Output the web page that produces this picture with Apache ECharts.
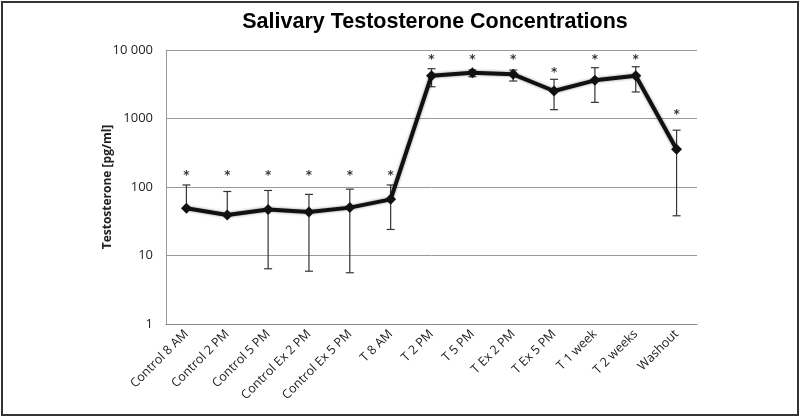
<!DOCTYPE html>
<html>
<head>
<meta charset="utf-8">
<script src="https://cdn.jsdelivr.net/npm/echarts@6/dist/echarts.min.js"></script>
<style>html,body{margin:0;padding:0;background:#fff}#c{width:800px;height:418px}</style>
</head>
<body>
<div id="c"></div>
<script>
const categories = ['Control 8 AM','Control 2 PM','Control 5 PM','Control Ex 2 PM','Control Ex 5 PM','T 8 AM','T 2 PM','T 5 PM','T Ex 2 PM','T Ex 5 PM','T 1 week','T 2 weeks','Washout'];
const means = [49, 39, 47, 43, 50, 66, 4215, 4665, 4420, 2520, 3610, 4215, 355];
const upperErr = [107, 86, 89, 78, 93, 107, 5330, 5100, 5100, 3735, 5520, 5700, 675];
const lowerErr = [null, null, 6.4, 5.9, 5.6, 24, 2910, 4075, 3525, 1345, 1720, 2440, 38];
const starLevels = [155, 155, 155, 155, 155, 155, 7640, 7640, 7640, 4935, 7640, 7640, 1216];
const yTicks = [1, 10, 100, 1000, 10000];

const font = '"Open Sans", Lato, sans-serif';
const chart = echarts.init(document.getElementById('c'));
const errData = categories.map((c, i) => [i, means[i], upperErr[i], lowerErr[i]]);

chart.setOption({
  animation: false,
  backgroundColor: '#fff',
  title: {
    text: 'Salivary Testosterone Concentrations',
    left: 430, top: 6, textAlign: 'center',
    textStyle: {fontFamily: '"Liberation Sans", Arial, sans-serif', fontWeight: 'bold', fontSize: 21.5, color: '#000'}
  },
  graphic: [{
    type: 'rect', shape: {x: 2, y: 2, width: 796, height: 413},
    style: {fill: 'none', stroke: '#333', lineWidth: 2}, silent: true
  }],
  grid: {left: 166, right: 103, top: 50, bottom: 94},
  xAxis: {
    type: 'category', data: categories, boundaryGap: true,
    axisLine: {lineStyle: {color: '#888', width: 1}},
    axisTick: {show: false},
    axisLabel: {rotate: 45, margin: 8, fontFamily: font, fontSize: 12.5, color: '#222', interval: 0}
  },
  yAxis: {
    type: 'log', logBase: 10, min: 1, max: 10000,
    name: 'Testosterone [pg/ml]', nameLocation: 'middle', nameGap: 52, nameMoveOverlap: false,
    nameTextStyle: {fontFamily: font, fontWeight: 'bold', fontSize: 12, color: '#222'},
    axisLine: {show: true, lineStyle: {color: '#999', width: 1}},
    axisTick: {show: false},
    splitLine: {lineStyle: {color: '#999', width: 1}},
    axisLabel: {fontFamily: font, fontSize: 13, color: '#222', margin: 13,
      formatter: v => (yTicks.includes(v) ? (v === 10000 ? '10 000' : String(v)) : '')}
  },
  series: [
    {
      type: 'custom', z: 3,
      data: errData,
      renderItem: (params, api) => {
        const x = api.value(0);
        const hi = api.coord([x, api.value(2)]);
        const mid = api.coord([x, api.value(1)]);
        const loV = api.value(3);
        const lo = (loV == null || isNaN(loV)) ? mid : api.coord([x, loV]);
        const cw = 4;
        const style = {stroke: '#333', lineWidth: 1.2};
        const children = [
          {type: 'line', shape: {x1: hi[0], y1: hi[1], x2: lo[0], y2: lo[1]}, style},
          {type: 'line', shape: {x1: hi[0] - cw, y1: hi[1], x2: hi[0] + cw, y2: hi[1]}, style}
        ];
        if (!(loV == null || isNaN(loV))) {
          children.push({type: 'line', shape: {x1: lo[0] - cw, y1: lo[1], x2: lo[0] + cw, y2: lo[1]}, style});
        }
        return {type: 'group', children};
      }
    },
    {
      type: 'line', data: means, z: 4,
      symbol: 'diamond', symbolSize: 11, showSymbol: true,
      lineStyle: {color: '#111', width: 4, shadowColor: 'rgba(0,0,0,0.45)', shadowBlur: 3},
      itemStyle: {color: '#111'}
    },
    {
      type: 'scatter', data: starLevels, symbolSize: 1, itemStyle: {color: 'rgba(0,0,0,0)'}, z: 5,
      label: {show: true, position: 'inside', formatter: '*', fontFamily: '"DejaVu Sans", sans-serif', fontWeight: 'bold', fontSize: 12, color: '#000',
        textBorderWidth: 0, offset: [0, 2]}
    }
  ]
});
</script>
</body>
</html>
